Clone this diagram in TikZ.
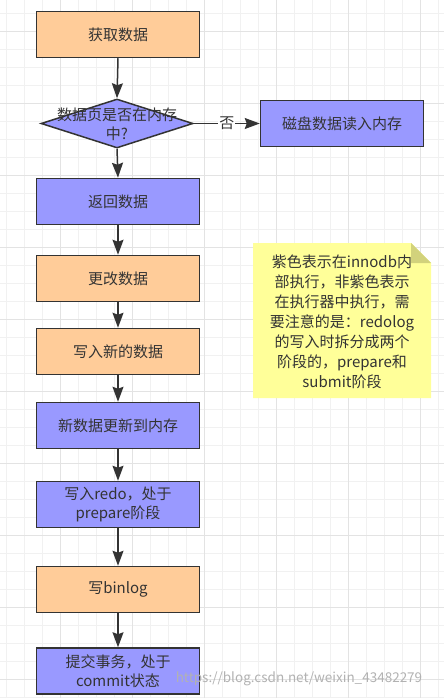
\documentclass[tikz,border=0pt]{standalone}
\usepackage{fontspec}
\setmainfont{Noto Sans CJK SC}
\usetikzlibrary{arrows.meta,shapes.geometric}
\definecolor{inkgray}{HTML}{333333}
\definecolor{stepora}{HTML}{FFCC99}
\definecolor{steppur}{HTML}{9999FF}
\definecolor{noteyel}{HTML}{FFFF99}
\definecolor{notefold}{HTML}{D2D27C}
\definecolor{gridminor}{HTML}{F1F1F1}
\definecolor{gridmajor}{HTML}{E3E3E3}
\tikzset{
  flowtext/.style={text=inkgray, font=\fontsize{15pt}{19pt}\selectfont},
  flowbox/.style={flowtext, draw=inkgray, line width=1.5pt, minimum width=163pt,
    minimum height=46pt, inner sep=0pt, align=center},
  orabox/.style={flowbox, fill=stepora},
  purbox/.style={flowbox, fill=steppur},
  flowarrow/.style={draw=inkgray, line width=1.5pt,
    -{Stealth[length=15pt,width=11pt,inset=2pt]}},
}
\begin{document}
\begin{tikzpicture}[x=1pt, y=-1pt]
\useasboundingbox (0,0) rectangle (444,698);
\fill[white] (0,0) rectangle (444,698);

% Background grid
\foreach \x in {6.7,24.7,...,440} \draw[gridminor, line width=0.8pt] (\x,0) -- (\x,698);
\foreach \y in {13.3,31.3,...,698} \draw[gridminor, line width=0.8pt] (0,\y) -- (444,\y);
\foreach \x in {60.7,132.7,...,440} \draw[gridmajor, line width=0.8pt] (\x,0) -- (\x,698);
\foreach \y in {31.3,103.3,...,698} \draw[gridmajor, line width=0.8pt] (0,\y) -- (444,\y);

% Steps (orange: executor, purple: innodb)
\node[orabox] (get) at (118,34.5) {获取数据};
\node[shape=diamond, draw=inkgray, line width=1.5pt, fill=steppur, inner sep=0pt,
  minimum width=152pt, minimum height=49pt] (ask) at (117,123.5) {};
\node[flowtext, align=center] (asktext) at (117,124) {数据页是否在内存\\中?};
\node[purbox] (disk) at (342,123.5) {磁盘数据读入内存};
\node[purbox] (ret) at (118,201.5) {返回数据};
\node[orabox] (chg) at (118,278.5) {更改数据};
\node[orabox] (wnew) at (118,351.5) {写入新的数据};
\node[purbox] (mem) at (118,425.5) {新数据更新到内存};
\node[purbox] (redo) at (118,504.5) {写入redo，处于\\prepare阶段};
\node[orabox] (binlog) at (118,589.5) {写binlog};
\node[purbox] (commit) at (118,671) {提交事务，处于\\commit状态};

% Arrows
\draw[flowarrow] (get.south) -- (ask.north);
\draw[flowarrow] (ask.east) -- node[flowtext, fill=white, inner sep=1pt] (no) {否} (disk.west);
\foreach \a/\b in {ask/ret, ret/chg, chg/wnew, wnew/mem, mem/redo, redo/binlog, binlog/commit}
  \draw[flowarrow] (\a.south) -- (\b.north);

% Note (folded corner)
\fill[noteyel] (253,243) -- (411,243) -- (431,263) -- (431,398) -- (253,398) -- cycle;
\fill[notefold] (411,243) -- (431,263) -- (411,263) -- cycle;
\node[text=inkgray, font=\fontsize{15pt}{20pt}\selectfont, align=center] (note) at (342,322)
  {紫色表示在innodb内\\部执行，非紫色表示\\在执行器中执行，需\\要注意的是：redolog\\的写入时拆分成两个\\阶段的，prepare和\\submit阶段};

% Watermark
\node[text=black!30, font=\fontsize{13.5pt}{16pt}\selectfont] (wmark) at (299,679)
  {https://blog.csdn.net/weixin\_43482279};

\end{tikzpicture}
\end{document}
